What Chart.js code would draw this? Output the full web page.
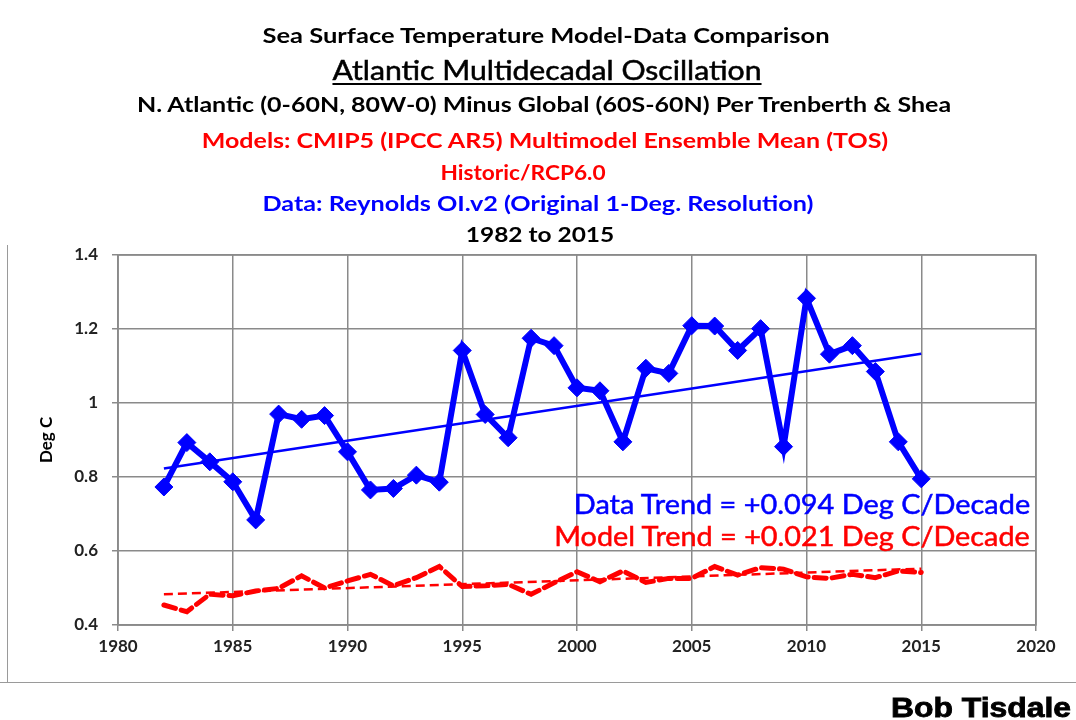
<!DOCTYPE html>
<html>
<head>
<meta charset="utf-8">
<script src="https://cdn.jsdelivr.net/npm/chart.js@4"></script>
<style>
  html, body { margin: 0; padding: 0; background: #fff; }
  #wrap { position: relative; width: 1076px; height: 720px; overflow: hidden; }
  #c { position: absolute; left: 0; top: 0; }
  .t { position: absolute; white-space: nowrap; font-family: Lato, "Noto Sans", sans-serif; transform-origin: 50% 50%; }
  .frameL { position: absolute; left: 7px; top: 245px; width: 1px; height: 437px; background: #9a9a9a; }
  .frameB { position: absolute; left: 0; top: 682px; width: 1076px; height: 1px; background: #9a9a9a; }
</style>
</head>
<body>
<div id="wrap">
  <canvas id="c" width="1076" height="720"></canvas>
  <div class="frameL"></div>
  <div class="frameB"></div>
</div>
<script>
// Years of the record
const years = [1982, 1983, 1984, 1985, 1986, 1987, 1988, 1989, 1990, 1991, 1992, 1993,
  1994, 1995, 1996, 1997, 1998, 1999, 2000, 2001, 2002, 2003, 2004, 2005, 2006, 2007,
  2008, 2009, 2010, 2011, 2012, 2013, 2014, 2015];

// Reynolds OI.v2 AMO index (N. Atlantic minus global), deg C
const observed = [0.773, 0.893, 0.841, 0.787, 0.684, 0.970, 0.956, 0.966, 0.868, 0.765,
  0.769, 0.805, 0.786, 1.142, 0.969, 0.906, 1.175, 1.155, 1.041, 1.033, 0.895, 1.094,
  1.080, 1.209, 1.208, 1.142, 1.201, 0.882, 1.283, 1.132, 1.155, 1.085, 0.895, 0.795];

// CMIP5 multimodel ensemble mean (TOS), Historic/RCP6.0, deg C
const modelMean = [0.454, 0.436, 0.483, 0.479, 0.492, 0.499, 0.533, 0.500, 0.519, 0.537,
  0.506, 0.528, 0.558, 0.504, 0.506, 0.510, 0.483, 0.514, 0.544, 0.517, 0.546, 0.515,
  0.526, 0.526, 0.558, 0.535, 0.555, 0.551, 0.530, 0.526, 0.537, 0.528, 0.546, 0.542];

// Linear trends: value at the first year and slope per decade
const dataTrendStart = 0.823;
const dataTrendPerDecade = 0.094;
const modelTrendStart = 0.483;
const modelTrendPerDecade = 0.021;

// Axis ticks
const xTicks = [1980, 1985, 1990, 1995, 2000, 2005, 2010, 2015, 2020];
const yTicks = [0.4, 0.6, 0.8, 1.0, 1.2, 1.4];

// Text blocks: headings, trend notes and credit
const textLines = [
  { text: "Sea Surface Temperature Model-Data Comparison", color: "#000", cx: 546, cy: 34, size: 21, weight: 700, sx: 1.215 },
  { text: "Atlantic Multidecadal Oscillation", color: "#000", cx: 547, cy: 70, size: 26, weight: 400, sx: 1.16, underline: true, stroke: 0.5 },
  { text: "N. Atlantic (0-60N, 80W-0) Minus Global (60S-60N) Per Trenberth & Shea", color: "#000", cx: 544, cy: 104, size: 20, weight: 700, sx: 1.25 },
  { text: "Models: CMIP5 (IPCC AR5) Multimodel Ensemble Mean (TOS)", color: "#ff0000", cx: 545, cy: 139, size: 21, weight: 700, sx: 1.19 },
  { text: "Historic/RCP6.0", color: "#ff0000", cx: 523, cy: 171, size: 21, weight: 700, sx: 1.08 },
  { text: "Data: Reynolds OI.v2 (Original 1-Deg. Resolution)", color: "#0000ff", cx: 538, cy: 202, size: 21, weight: 700, sx: 1.2 },
  { text: "1982 to 2015", color: "#000", cx: 540, cy: 233, size: 21, weight: 700, sx: 1.165 },
  { text: "Data Trend = +0.094 Deg C/Decade", color: "#0000ff", cx: 802, cy: 503, size: 27, weight: 400, sx: 1.07, stroke: 0.5 },
  { text: "Model Trend = +0.021 Deg C/Decade", color: "#ff0000", cx: 792, cy: 535, size: 27, weight: 400, sx: 1.067, stroke: 0.5 },
  { text: "Bob Tisdale", color: "#000", cx: 981, cy: 708, size: 27, weight: 700, sx: 1.18, stroke: 0.8, family: '"Liberation Sans", Arial, sans-serif' }
];

const wrap = document.getElementById('wrap');
textLines.forEach(l => {
  const d = document.createElement('div');
  d.className = 't';
  d.textContent = l.text;
  d.style.color = l.color;
  d.style.fontSize = l.size + 'px';
  d.style.fontWeight = l.weight;
  d.style.lineHeight = (l.size + 6) + 'px';
  if (l.family) d.style.fontFamily = l.family;
  if (l.stroke) d.style.webkitTextStroke = l.stroke + 'px ' + l.color;
  if (l.underline) { d.style.textDecoration = 'underline'; d.style.textUnderlineOffset = '3px'; d.style.textDecorationThickness = '2px'; }
  d.style.left = l.cx + 'px';
  d.style.top = (l.cy - (l.size + 6) / 2) + 'px';
  d.style.transform = 'translateX(-50%) scaleX(' + l.sx + ')';
  wrap.appendChild(d);
});

const trendLine = (start, perDecade) => [
  { x: years[0], y: start },
  { x: years[years.length - 1], y: start + perDecade * (years[years.length - 1] - years[0]) / 10 }
];

const toXY = vals => years.map((yr, i) => ({ x: yr, y: vals[i] }));

const tickFont = { family: 'Lato, "Noto Sans", sans-serif', size: 17, weight: 'bold' };
const gridColor = '#8a8a8a';

new Chart(document.getElementById('c'), {
  type: 'line',
  data: {
    datasets: [
      {
        label: 'Data Trend',
        data: trendLine(dataTrendStart, dataTrendPerDecade),
        borderColor: '#0000ff', borderWidth: 2.5, pointRadius: 0, order: 1
      },
      {
        label: 'Reynolds OI.v2',
        data: toXY(observed),
        borderColor: '#0000ff', backgroundColor: '#0000ff', borderWidth: 6,
        pointStyle: 'rectRot', pointRadius: 9, pointBorderWidth: 1, order: 2
      },
      {
        label: 'Model Trend',
        data: trendLine(modelTrendStart, modelTrendPerDecade),
        borderColor: '#ff0000', borderWidth: 2.5, borderDash: [9, 5], pointRadius: 0, order: 3
      },
      {
        label: 'CMIP5 Ensemble Mean',
        data: toXY(modelMean),
        borderColor: '#ff0000', borderWidth: 5, borderDash: [12, 6], borderCapStyle: 'round',
        pointRadius: 0, order: 4
      }
    ]
  },
  options: {
    responsive: false,
    animation: false,
    layout: { padding: { left: 0, right: 40, top: 255, bottom: 0 } },
    plugins: { legend: { display: false }, tooltip: { enabled: false } },
    scales: {
      x: {
        type: 'linear', min: 1980, max: 2020,
        afterFit: s => { s.height = 95; },
        afterBuildTicks: s => { s.ticks = xTicks.map(v => ({ value: v })); },
        ticks: { font: tickFont, color: '#222', padding: 5, maxRotation: 0, callback: v => String(v) },
        grid: { color: gridColor, lineWidth: 1.5, tickLength: 6 },
        border: { color: gridColor, width: 1.5 }
      },
      y: {
        min: 0.4, max: 1.4,
        afterFit: s => { s.width = 118; },
        afterBuildTicks: s => { s.ticks = yTicks.map(v => ({ value: v })); },
        ticks: { font: tickFont, color: '#222', padding: 14, callback: v => String(Number(v.toFixed(1))) },
        grid: { color: gridColor, lineWidth: 1.5, tickLength: 6 },
        border: { color: gridColor, width: 1.5 },
        title: { display: true, text: 'Deg C', color: '#000', font: { family: 'Lato, "Noto Sans", sans-serif', size: 17, weight: 'bold' }, padding: { top: 36, bottom: 0 } }
      }
    }
  },
  plugins: [{
    id: 'plotFrame',
    afterDraw(chart) {
      const { ctx, chartArea: a } = chart;
      ctx.save();
      ctx.strokeStyle = gridColor;
      ctx.lineWidth = 1.5;
      ctx.strokeRect(a.left, a.top, a.right - a.left, a.bottom - a.top);
      ctx.restore();
    }
  }]
});
</script>
</body>
</html>
